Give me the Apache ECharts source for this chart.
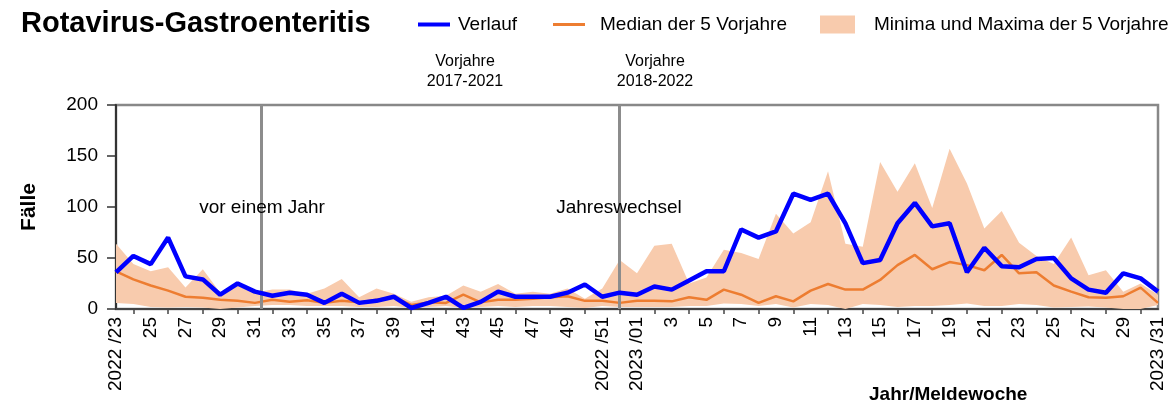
<!DOCTYPE html>
<html><head><meta charset="utf-8">
<script src="https://cdn.jsdelivr.net/npm/echarts@6/dist/echarts.min.js"></script>
<style>html,body{margin:0;padding:0;background:#fff}#c{width:1176px;height:403px}</style>
</head><body><div id="c"></div>
<script>
const weekLabels = ['2022 /23','24','25','26','27','28','29','30','31','32','33','34','35','36','37','38','39','40','41','42','43','44','45','46','47','48','49','50','2022 /51','52',
  '2023 /01','2','3','4','5','6','7','8','9','10','11','12','13','14','15','16','17','18','19','20','21','22','23','24','25','26','27','28','29','30','2023 /31'];
const verlauf = [36,52,44,70,32,29,14,25,17,13,16,14,6,15,6,8,12,1,6,12,1,7,17,12,12,12,16,24,12,16,
  14,22,19,28,37,37,78,70,76,113,107,113,84,45,48,84,104,81,84,36,60,42,41,49,50,30,19,16,35,30,17];
const median = [37,29,23,18,12,11,9,8,6,9,7,8.5,6,8,6.5,9,11.5,4,6.5,6,14,6.5,9,9,10,11.5,12.5,8,8,6,
  8,8,7.5,11.5,9,19,14,6,12.5,7.5,18,24.5,19,19,28.5,43,53,39,46,43,38,53,35,36,23,17,11.5,11,12.5,21,6];
const minVals = [6,5,2,1.5,2,1.5,0,1.5,3,4,4,3,3,3,2,2,3,1,2,3,1,2,3,2,3,3,2,1,3,2,
  2,2,2,3,3,5.5,5,3,5,1.5,5,4,0,5,4,2,3,3,4,5.5,3,3,5,4,1.5,2,2.5,1.5,0,0,4];
const maxVals = [64,44,37,41,21,39,16,23,16,19,19,15,20,29.5,11.5,20,15,7,11.5,13,23,17,24.5,15,17,15,20,10,20,48,
  35,62,64,25,31,58,55,49,93.5,74,85,135,64,61,144,115,143,99,157,123,79,96,65,52,44,70,33,38,17,25,14];
const yMin = 0, yMax = 200, yStep = 50;
const refLines = [{pos: 8.35, label: 'vor einem Jahr'}, {pos: 29, label: 'Jahreswechsel'}];

const FONT = "'Liberation Sans', Arial, sans-serif";
const bandDiff = maxVals.map((v, i) => v - minVals[i]);

const chart = echarts.init(document.getElementById('c'), null, {renderer: 'canvas'});
chart.setOption({
  backgroundColor: '#fff',
  animation: false,
  textStyle: {fontFamily: FONT},
  title: [
    {text: 'Rotavirus-Gastroenteritis', left: 16, top: 4, textStyle: {fontFamily: FONT, fontSize: 29, fontWeight: 'bold', color: '#000'}},
    {text: 'Jahr/Meldewoche', left: 864, top: 380, textStyle: {fontFamily: FONT, fontSize: 19, fontWeight: 'bold', color: '#000'}}
  ],
  legend: [
    {left: 413, top: 10, itemWidth: 32, itemHeight: 4, data: [{name: 'Verlauf', icon: 'rect'}],
      textStyle: {fontFamily: FONT, fontSize: 19, color: '#000', padding: [0, 0, 0, 3]}, selectedMode: false},
    {left: 548, top: 10, itemWidth: 32, itemHeight: 3, data: [{name: 'Median der 5 Vorjahre', icon: 'rect'}],
      textStyle: {fontFamily: FONT, fontSize: 19, color: '#000', padding: [0, 0, 0, 10]}, selectedMode: false},
    {left: 815, top: 10, itemWidth: 35, itemHeight: 18, data: [{name: 'Minima und Maxima der 5 Vorjahre', icon: 'rect'}],
      textStyle: {fontFamily: FONT, fontSize: 19, color: '#000', padding: [0, 0, 0, 14]}, selectedMode: false}
  ],
  grid: {left: 116, right: 18, top: 105, bottom: 94, show: true, borderColor: '#888', borderWidth: 2.5, containLabel: false},
  xAxis: [
    {type: 'category', data: weekLabels, boundaryGap: false,
      axisLine: {show: true, lineStyle: {color: '#444', width: 2}},
      axisTick: {show: true, interval: (i) => i % 2 === 1, length: 5, lineStyle: {color: '#444', width: 1.5}},
      axisLabel: {interval: (i) => i % 2 === 0, rotate: 90, fontSize: 19, color: '#000', margin: 8, fontFamily: FONT},
      splitLine: {show: false}},
    {type: 'value', min: 0, max: weekLabels.length - 1, show: false}
  ],
  yAxis: {type: 'value', min: yMin, max: yMax, interval: yStep,
    name: 'Fälle', nameLocation: 'middle', nameGap: 76, nameRotate: 90,
    nameTextStyle: {fontFamily: FONT, fontSize: 21, fontWeight: 'bold', color: '#000'},
    axisLine: {show: true, lineStyle: {color: '#333', width: 2}},
    axisTick: {show: true, inside: false, length: 9, lineStyle: {color: '#333', width: 1.5}},
    axisLabel: {fontSize: 19, color: '#000', margin: 18, fontFamily: FONT},
    splitLine: {show: false}},
  series: [
    {name: 'minBase', type: 'line', stack: 'band', data: minVals, symbol: 'none', silent: true,
      lineStyle: {width: 0, opacity: 0}, itemStyle: {color: 'transparent'}, z: 1},
    {name: 'Minima und Maxima der 5 Vorjahre', type: 'line', stack: 'band', data: bandDiff, symbol: 'none', silent: true,
      color: '#F8CBAD', itemStyle: {color: '#F8CBAD'}, lineStyle: {width: 0, color: '#F8CBAD'},
      areaStyle: {color: '#F8CBAD', opacity: 1}, z: 2},
    {name: 'refLines', type: 'line', xAxisIndex: 1, data: [], silent: true, z: 3,
      markLine: {symbol: 'none', silent: true, animation: false, label: {show: false},
        lineStyle: {color: '#8c8c8c', width: 3, type: 'solid'},
        data: refLines.map(r => ({xAxis: r.pos}))}},
    {name: 'Median der 5 Vorjahre', type: 'line', data: median, symbol: 'none', silent: true,
      color: '#ED7D31', itemStyle: {color: '#ED7D31'}, lineStyle: {width: 2.5, color: '#ED7D31'}, z: 4},
    {name: 'Verlauf', type: 'line', data: verlauf, symbol: 'none', silent: true,
      color: '#0000FF', itemStyle: {color: '#0000FF'}, lineStyle: {width: 4.5, color: '#0000FF'}, z: 5}
  ],
  graphic: [
    {type: 'text', x: 465, y: 52, style: {text: 'Vorjahre\n2017-2021', font: '16px ' + FONT, fill: '#000', align: 'center', lineHeight: 20}},
    {type: 'text', x: 655, y: 52, style: {text: 'Vorjahre\n2018-2022', font: '16px ' + FONT, fill: '#000', align: 'center', lineHeight: 20}},
    {type: 'text', x: 262, y: 198, z: 10, style: {text: refLines[0].label, font: '19px ' + FONT, fill: '#000', align: 'center'}},
    {type: 'text', x: 619, y: 198, z: 10, style: {text: refLines[1].label, font: '19px ' + FONT, fill: '#000', align: 'center'}}
  ]
});
</script></body></html>
